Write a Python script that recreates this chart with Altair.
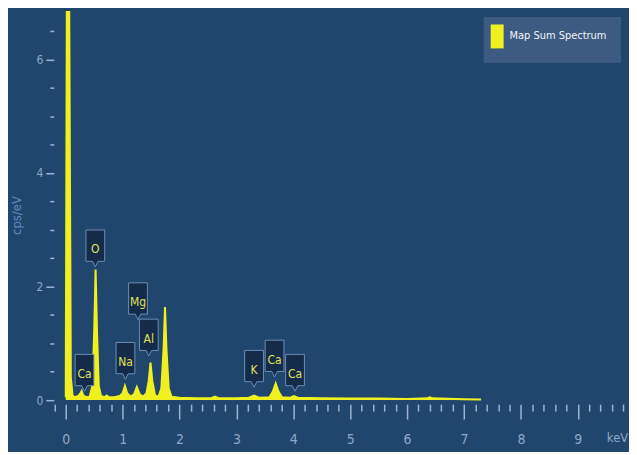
import altair as alt
import pandas as pd

# ---- spectrum (keV, cps/eV) ----
spec_kev = [0.00, 0.02, 0.06, 0.09, 0.12, 0.16, 0.22, 0.26, 0.28, 0.31, 0.36, 0.42,
            0.47, 0.50, 0.525, 0.55, 0.58, 0.62, 0.68, 0.72, 0.76, 0.85, 0.95, 1.00,
            1.04, 1.08, 1.14, 1.20, 1.25, 1.30, 1.36, 1.42, 1.46, 1.49, 1.52, 1.57,
            1.63, 1.68, 1.72, 1.745, 1.77, 1.81, 1.86, 2.00, 2.30, 2.55, 2.62, 2.70,
            3.00, 3.22, 3.31, 3.40, 3.58, 3.64, 3.69, 3.74, 3.80, 3.95, 4.01, 4.08,
            4.50, 5.00, 5.50, 6.00, 6.35, 6.40, 6.45, 7.00, 7.30]
spec_cps = [0.05, 7.20, 7.20, 0.40, 0.08, 0.05, 0.07, 0.12, 0.16, 0.08, 0.05, 0.06,
            0.25, 1.20, 2.30, 1.20, 0.25, 0.07, 0.05, 0.08, 0.05, 0.05, 0.07, 0.12,
            0.25, 0.12, 0.06, 0.10, 0.23, 0.10, 0.06, 0.12, 0.35, 0.66, 0.35, 0.08,
            0.06, 0.20, 0.90, 1.64, 0.90, 0.20, 0.06, 0.04, 0.03, 0.03, 0.06, 0.03,
            0.03, 0.04, 0.08, 0.04, 0.05, 0.15, 0.29, 0.15, 0.05, 0.04, 0.07, 0.04,
            0.03, 0.025, 0.025, 0.02, 0.03, 0.05, 0.03, 0.015, 0.01]
series_name = "Map Sum Spectrum"

# ---- element labels ----
elem_names = ["Ca", "O", "Na", "Mg", "Al", "K", "Ca", "Ca"]
elem_kev = [0.33, 0.52, 1.05, 1.27, 1.46, 3.31, 3.67, 4.03]
elem_cps = [0.48, 2.67, 0.69, 1.74, 1.10, 0.55, 0.73, 0.48]

# ---- axes ----
x_ticks = [round(-0.2 + 0.2 * i, 1) for i in range(51)]
y_ticks = [round(0.5 * i, 1) for i in range(14)]

spec = pd.DataFrame({"kev": spec_kev, "cps": spec_cps, "series": series_name})
elems = pd.DataFrame({"kev": elem_kev, "cps": elem_cps, "name": elem_names})

FONT = "Liberation Sans Narrow, DejaVu Sans Condensed, Arial Narrow, sans-serif"
TICK_COL = "#9db3cf"
LAB_COL = "#8ea8c8"

xscale = alt.Scale(domain=[-0.21, 9.9], nice=False, zero=False)
yscale = alt.Scale(domain=[-0.02, 6.85], nice=False, zero=False)

xaxis = alt.Axis(
    values=x_ticks, tickCount=200, title="keV", offset=3, domain=False, grid=False,
    tickColor=TICK_COL, tickWidth=1.5,
    tickSize={"condition": {"test": "datum.value % 1 == 0", "value": 15}, "value": 7},
    labelExpr="datum.value % 1 == 0 ? format(datum.value, 'd') : ''",
    labelColor=LAB_COL, labelFont=FONT, labelFontSize=14, labelPadding=14,
    labelOverlap=False, labelFlush=False,
    titleColor=LAB_COL, titleFont=FONT, titleFontSize=13, titleFontWeight="normal",
    titleX=566, titleY=28, titleAnchor="start", titleAlign="center", titleBaseline="top",
)
yaxis = alt.Axis(
    values=y_ticks, tickCount=200, title="cps/eV", domain=False, grid=False,
    tickColor=TICK_COL, tickWidth=1.5,
    tickSize={"condition": {"test": "datum.value % 2 == 0", "value": 8}, "value": 4},
    labelExpr="datum.value % 2 == 0 ? format(datum.value, 'd') : ''",
    labelColor=LAB_COL, labelFont=FONT, labelFontSize=12, labelPadding=3,
    labelOverlap=False, labelFlush=False,
    titleColor="#5f8bbf", titleFont=FONT, titleFontSize=13, titleFontWeight="normal",
    titleAngle=270, titleX=-37, titleY=205, titleAlign="center", titleBaseline="middle",
)

area = alt.Chart(spec).mark_area(line=True, clip=True, opacity=1, strokeWidth=1.5).encode(
    x=alt.X("kev:Q", scale=xscale, axis=xaxis),
    y=alt.Y("cps:Q", scale=yscale, axis=yaxis),
    color=alt.Color(
        "series:N",
        scale=alt.Scale(range=["#f0f020"]),
        legend=alt.Legend(
            title=None, orient="none", legendX=432, legendY=6,
            fillColor="#3d5b82", padding=13, strokeColor="#3d5b82",
            symbolType="M-1.92,-1.85H0.08V1.85H-1.92Z", symbolSize=169, symbolStrokeWidth=0,
            labelColor="#f2f4f8", labelFont=FONT, labelFontSize=11, labelOffset=0,
        ),
    ),
)

box_shape = "M-0.51,-1L0.51,-1L0.51,0.7L0.15,0.7L0,1L-0.15,0.7L-0.51,0.7Z"
boxes = alt.Chart(elems).mark_point(
    shape=box_shape, size=1369, filled=True, fill="#142b4a", fillOpacity=1,
    stroke="#6f8db2", strokeWidth=1, opacity=1,
).encode(x=alt.X("kev:Q", scale=xscale), y=alt.Y("cps:Q", scale=yscale))

texts = alt.Chart(elems).mark_text(
    font=FONT, fontSize=12, color="#e2e35a", dy=1, baseline="middle", align="center",
).encode(x=alt.X("kev:Q", scale=xscale), y=alt.Y("cps:Q", scale=yscale), text="name:N")

chart = alt.layer(area, boxes, texts).properties(
    width=578, height=392,
    autosize=alt.AutoSizeParams(type="none"),
    padding={"left": 46, "top": 2, "right": 0, "bottom": 50},
).configure(background="#21466e").configure_view(stroke=None)

chart.save("out.html", embed_options={"renderer": "svg", "actions": False})
